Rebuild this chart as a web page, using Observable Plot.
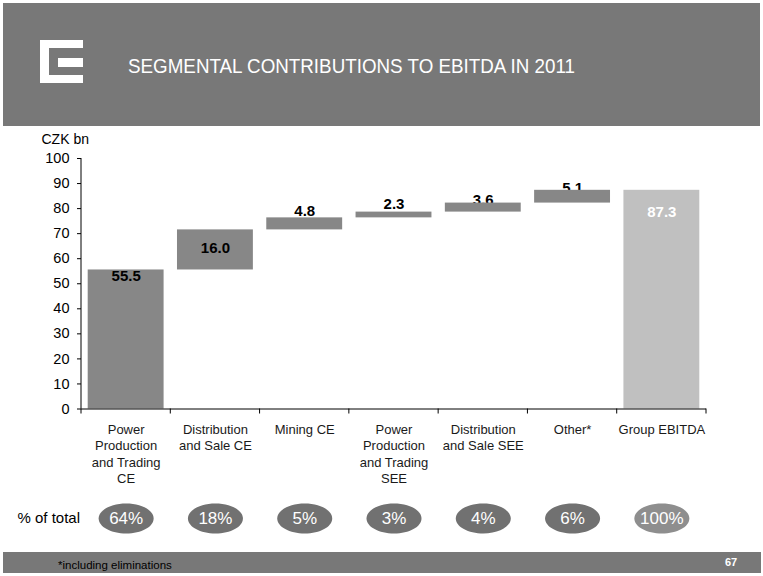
<!DOCTYPE html>
<html>
<head>
<meta charset="utf-8">
<script src="https://cdn.jsdelivr.net/npm/d3@7"></script>
<script src="https://cdn.jsdelivr.net/npm/@observablehq/plot@0.6"></script>
<style>
  body { margin: 0; background: #fff; }
  #page { position: relative; width: 763px; height: 576px; overflow: hidden; font-family: "Liberation Sans", Arial, sans-serif; }
  #chart { position: absolute; left: 0; top: 0; }
  #overlay { position: absolute; left: 0; top: 0; }
</style>
</head>
<body>
<div id="page">
  <div id="chart"></div>
  <svg id="overlay" width="763" height="576" xmlns="http://www.w3.org/2000/svg">
    <rect x="3" y="3" width="757" height="123" fill="#787878"/>
    <!-- logo -->
    <rect x="40" y="40" width="43" height="43" fill="#ffffff"/>
    <rect x="49" y="48" width="34" height="27" fill="#787878"/>
    <rect x="58" y="58" width="25" height="9" fill="#ffffff"/>
    <text x="128" y="73" fill="#ffffff" font-family="'Liberation Sans', Arial, sans-serif" font-size="21" textLength="447" lengthAdjust="spacingAndGlyphs">SEGMENTAL CONTRIBUTIONS TO EBITDA IN 2011</text>
    <rect x="3" y="552" width="758" height="21" fill="#787878"/>
    <text x="58" y="569" fill="#000000" font-family="'Liberation Sans', Arial, sans-serif" font-size="11.5">*including eliminations</text>
    <text x="725" y="566" fill="#ffffff" font-family="'Liberation Sans', Arial, sans-serif" font-size="11" font-weight="bold">67</text>
  </svg>
</div>
<script>
// ---- data ----
const categories = [
  "Power\nProduction\nand Trading\nCE",
  "Distribution\nand Sale CE",
  "Mining CE",
  "Power\nProduction\nand Trading\nSEE",
  "Distribution\nand Sale SEE",
  "Other*",
  "Group EBITDA"
];
const values = [55.5, 16.0, 4.8, 2.3, 3.6, 5.1, 87.3];
const shares = ["64%", "18%", "5%", "3%", "4%", "6%", "100%"];
const yTicks = [0, 10, 20, 30, 40, 50, 60, 70, 80, 90, 100];
const yLabel = "CZK bn";
const shareLabel = "% of total";

// ---- styles (not data) ----
const barColor = "#878787";
const totalColor = "#c0c0c0";
const ovalColor = "#717171";
const totalOvalColor = "#8e8e8e";
const labelMode = ["top", "mid", "top", "top", "top", "top", "top"];
const labelDy = [6.5, -1.5, -6.4, -7.6, -3, -2, 22];
const labelFill = ["#000", "#000", "#000", "#000", "#000", "#000", "#fff"];
const labelBehind = [false, false, true, true, true, true, false];

// ---- waterfall rows ----
let cum = 0;
const rows = categories.map((cat, i) => {
  const isTotal = i === categories.length - 1;
  const y1 = isTotal ? 0 : cum;
  const y2 = isTotal ? values[i] : cum + values[i];
  if (!isTotal) cum += values[i];
  return {cat, value: values[i], y1, y2, share: shares[i], isTotal, i};
});

const ellipse = {
  draw(ctx) {
    const rx = 27.5, ry = 15, k = 0.5523;
    ctx.moveTo(rx, 0);
    ctx.bezierCurveTo(rx, ry * k, rx * k, ry, 0, ry);
    ctx.bezierCurveTo(-rx * k, ry, -rx, ry * k, -rx, 0);
    ctx.bezierCurveTo(-rx, -ry * k, -rx * k, -ry, 0, -ry);
    ctx.bezierCurveTo(rx * k, -ry, rx, -ry * k, rx, 0);
    ctx.closePath();
  }
};

function axisDecor(index, scales, values, dimensions) {
  const x = scales.x, y = scales.y;
  const g = d3.create("svg:g").attr("stroke", "#000").attr("fill", "none");
  const y0 = y(0);
  const n = categories.length;
  const step = x.step ? x.step() : (dimensions.width - dimensions.marginLeft - dimensions.marginRight) / n;
  const bw = x.bandwidth ? x.bandwidth() : step * 0.85;
  const bounds = categories.map(c => x(c) - (step - bw) / 2);
  bounds.push(bounds[n - 1] + step);
  bounds.forEach(b => g.append("line").attr("x1", b).attr("x2", b).attr("y1", y0).attr("y2", y0 + 5));
  g.append("line")
    .attr("x1", dimensions.marginLeft).attr("x2", dimensions.marginLeft)
    .attr("y1", y(yTicks[yTicks.length - 1])).attr("y2", y0);
  return g.node();
}

function valueLabel(r) {
  const i = r.i;
  return Plot.text([r], {
    x: "cat",
    y: labelMode[i] === "mid" ? d => (d.y1 + d.y2) / 2 : "y2",
    text: d => d.value.toFixed(1),
    dy: labelDy[i],
    fill: labelFill[i],
    fontWeight: "bold",
    fontSize: 15
  });
}

const chart = Plot.plot({
  width: 763,
  height: 576,
  marginTop: 158,
  marginBottom: 167.5,
  marginLeft: 81,
  marginRight: 57,
  style: {fontFamily: "'Liberation Sans', Arial, sans-serif", fontSize: "14px", color: "#000", background: "transparent"},
  x: {domain: categories, paddingInner: 0.15, paddingOuter: 0.075, label: null, round: false},
  y: {domain: [0, 100], label: null},
  marks: [
    Plot.axisY({ticks: yTicks, tickSize: 4, tickPadding: 8, fontSize: 14.5, label: null}),
    Plot.axisX({tickSize: 0, tickPadding: 13, fontSize: 13, lineHeight: 1.27, label: null, fill: "#1a1a1a"}),
    Plot.text([yLabel], {frameAnchor: "top-left", lineAnchor: "middle", dx: -40, dy: -19, textAnchor: "start", fontSize: 14}),
    Plot.text([shareLabel], {frameAnchor: "bottom-left", lineAnchor: "middle", dx: -64, dy: 109.5, textAnchor: "start", fontSize: 15}),
    ...rows.filter(r => labelBehind[r.i]).map(valueLabel),
    Plot.barY(rows.filter(r => !r.isTotal), {x: "cat", y1: "y1", y2: "y2", fill: barColor}),
    Plot.barY(rows.filter(r => r.isTotal), {x: "cat", y1: "y1", y2: "y2", fill: totalColor}),
    ...rows.filter(r => !labelBehind[r.i]).map(valueLabel),
    Plot.ruleY([0], {stroke: "#000"}),
    axisDecor,
    Plot.dot(rows.filter(r => !r.isTotal), {x: "cat", frameAnchor: "bottom", dy: 109.5, symbol: ellipse, fill: ovalColor, stroke: "none"}),
    Plot.dot(rows.filter(r => r.isTotal), {x: "cat", frameAnchor: "bottom", dy: 109.5, symbol: ellipse, fill: totalOvalColor, stroke: "none"}),
    Plot.text(rows, {x: "cat", text: "share", frameAnchor: "bottom", lineAnchor: "middle", dy: 109.5, fill: "#ffffff", fontSize: 17})
  ]
});
document.getElementById("chart").appendChild(chart);
</script>
</body>
</html>
